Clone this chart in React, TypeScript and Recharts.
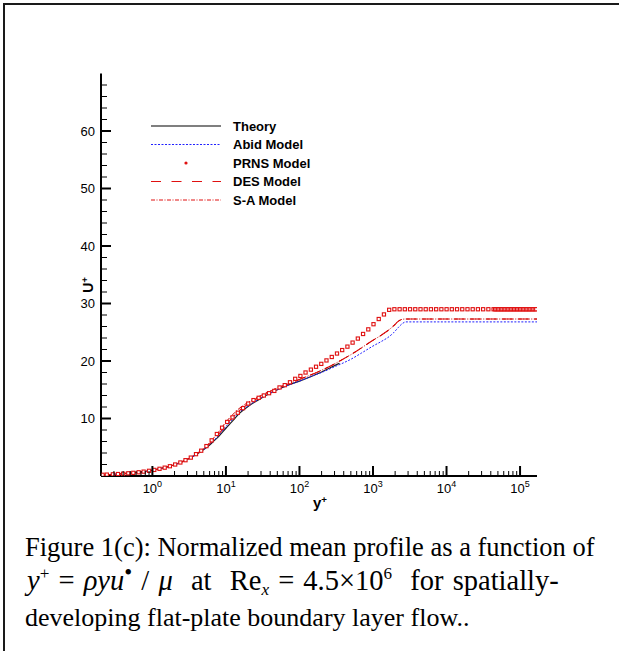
import React from "react";
import { ComposedChart, Line, Scatter, XAxis, YAxis } from "recharts";

// y+ / U+ readings taken off the figure
const theoryX = [0.2, 0.3, 0.5, 0.7, 1, 1.5, 2, 3, 4, 5, 6, 7, 8, 10, 12, 15, 20, 25, 30, 40, 50, 70, 100, 150, 200, 250, 300, 350];
const theoryU = [0.2, 0.3, 0.5, 0.7, 1.0, 1.5, 1.95, 2.9, 3.8, 4.6, 5.4, 6.2, 6.9, 8.3, 9.4, 10.8, 12.1, 12.9, 13.5, 14.4, 15.0, 15.8, 16.5, 17.4, 18.1, 18.7, 19.2, 19.6];

const modelX = [0.2, 0.3, 0.5, 0.7, 1, 1.5, 2, 3, 4, 5, 6, 7, 8, 10, 12, 15, 20, 25, 30, 40, 50, 70, 100, 150, 200, 300, 400, 500, 700, 1000, 1300, 1600, 1900, 2200, 2500, 2800, 5000, 10000, 30000, 100000, 170000];
const abidU = [0.2, 0.3, 0.5, 0.7, 1.0, 1.5, 1.95, 2.9, 3.8, 4.65, 5.5, 6.3, 7.1, 8.6, 9.7, 11.0, 12.2, 13.0, 13.6, 14.4, 15.0, 15.8, 16.5, 17.4, 18.0, 19.0, 19.7, 20.3, 21.4, 22.6, 23.4, 24.1, 24.9, 25.8, 26.5, 26.8, 26.8, 26.8, 26.8, 26.8, 26.8];
const desU = [0.2, 0.3, 0.5, 0.7, 1.0, 1.5, 1.95, 2.9, 3.85, 4.75, 5.6, 6.5, 7.3, 8.9, 10.0, 11.3, 12.5, 13.3, 13.9, 14.7, 15.3, 16.0, 16.8, 17.7, 18.4, 19.5, 20.4, 21.1, 22.3, 23.6, 24.5, 25.3, 26.1, 26.9, 27.25, 27.3, 27.3, 27.3, 27.3, 27.3, 27.3];
const saU = [0.2, 0.3, 0.5, 0.7, 1.0, 1.5, 1.95, 2.9, 3.9, 4.8, 5.8, 6.8, 7.7, 9.4, 10.5, 11.7, 12.8, 13.5, 14.0, 14.8, 15.3, 16.0, 16.8, 17.7, 18.4, 19.5, 20.4, 21.1, 22.3, 23.6, 24.5, 25.3, 26.1, 26.9, 27.25, 27.3, 27.3, 27.3, 27.3, 27.3, 27.3];

const prnsX = [
  0.21, 0.24, 0.29, 0.34, 0.40, 0.47, 0.55, 0.65, 0.76, 0.90, 1.06, 1.25, 1.47, 1.73, 2.04, 2.40, 2.82, 3.33, 3.92, 4.61,
  5.43, 6.40, 7.53, 8.87, 10.4, 12.3, 14.5, 17.1, 20.1, 23.7, 27.9, 32.8, 38.6, 45.5, 53.6, 63.1, 74.3, 87.5, 103, 121,
  143, 168, 198, 233, 275, 324, 381, 449, 528, 622, 733, 863, 1016, 1197, 1409, 1660, 1954, 2301, 2710, 3192,
  3758, 4426, 5212, 6138, 7228, 8511, 10020, 11800, 13900, 16370, 19280, 22700, 26730, 31480, 37070, 43650,
  45700, 47900, 50100, 52500, 55000, 57500, 60300, 63100, 66100, 69200, 72400, 75900, 79400, 83200, 87100,
  91200, 95500, 100000, 104700, 109600, 114800, 120200, 125900, 131800, 138000, 144500, 151400, 158500, 166000,
];
const prnsU = [
  0.21, 0.24, 0.29, 0.34, 0.40, 0.47, 0.55, 0.65, 0.76, 0.90, 1.06, 1.25, 1.45, 1.70, 2.0, 2.35, 2.75, 3.2, 3.8, 4.4,
  5.2, 6.2, 7.3, 8.4, 9.4, 10.2, 11.0, 11.8, 12.6, 13.2, 13.6, 14.0, 14.4, 14.8, 15.4, 15.8, 16.3, 16.9, 17.4, 18.0,
  18.5, 19.0, 19.5, 20.1, 20.7, 21.3, 21.9, 22.5, 23.2, 23.9, 24.7, 25.5, 26.4, 27.3, 28.1, 28.9, 29.0, 29.0, 29.0, 29.0,
  29.0, 29.0, 29.0, 29.0, 29.0, 29.0, 29.0, 29.0, 29.0, 29.0, 29.0, 29.0, 29.0, 29.0, 29.0, 29.0,
  29.0, 29.0, 29.0, 29.0, 29.0, 29.0, 29.0, 29.0, 29.0, 29.0, 29.0, 29.0, 29.0, 29.0, 29.0,
  29.0, 29.0, 29.0, 29.0, 29.0, 29.0, 29.0, 29.0, 29.0, 29.0, 29.0, 29.0, 29.0, 29.0,
];

const legendNames = ["Theory", "Abid Model", "PRNS Model", "DES Model", "S-A Model"];

const majorX = [1, 10, 100, 1000, 10000, 100000];
const yTicks = [0, 2, 4, 6, 8, 10, 12, 14, 16, 18, 20, 22, 24, 26, 28, 30, 32, 34, 36, 38, 40, 42, 44, 46, 48, 50, 52, 54, 56, 58, 60, 62, 64, 66, 68];

const xTicks: number[] = [];
[0.1, 1, 10, 100, 1000, 10000, 100000].forEach((d) => {
  for (let m = 1; m <= 9; m++) {
    const v = +(d * m).toPrecision(6);
    if (v >= 0.2 && v <= 170000) xTicks.push(v);
  }
});

const rows = (xs: number[], us: number[]) => xs.map((x, i) => ({ x, u: us[i] }));

const SANS = "'Liberation Sans', Arial, sans-serif";
const SERIF = "'Liberation Serif', 'Times New Roman', serif";
const RED = "#e01010";
const BLUE = "#2020ff";
const TICK = 6; // recharts tickSize; custom ticks shift back by it

const XTick = (props: any) => {
  const { x, y, payload } = props;
  const ay = y - TICK;
  const v = payload.value as number;
  const lg = Math.log10(v);
  const major = majorX.some((m) => Math.abs(Math.log10(m) - lg) < 1e-6);
  return (
    <g>
      <line x1={x} x2={x} y1={ay} y2={ay - (major ? 10 : 5)} stroke="#000" strokeWidth={major ? 2 : 1} />
      {major && (
        <text x={x} y={ay + 17} textAnchor="middle" fontFamily={SANS} fontSize={13} fill="#000">
          10
          <tspan dy={-6} fontSize={9}>{Math.round(lg)}</tspan>
        </text>
      )}
    </g>
  );
};

const YTick = (props: any) => {
  const { x, y, payload } = props;
  const ax = x + TICK;
  const v = payload.value as number;
  if (v === 0) return <g />;
  const major = v % 10 === 0;
  return (
    <g>
      <line x1={ax} x2={ax + (major ? 10 : 6)} y1={y} y2={y} stroke="#000" strokeWidth={major ? 2 : 1} />
      {major && (
        <text x={ax - 6} y={y} dy={4.5} textAnchor="end" fontFamily={SANS} fontSize={13} fill="#000">
          {v}
        </text>
      )}
    </g>
  );
};

const PrnsMarker = (props: any) => {
  const { cx, cy } = props;
  if (cx == null || cy == null) return <g />;
  return <rect x={cx - 1.6} y={cy - 1.6} width={3.2} height={3.2} fill="#fff" stroke={RED} strokeWidth={1.1} />;
};

function LegendBox() {
  const rowY = (i: number) => 10 + i * 18.5;
  return (
    <svg width={220} height={96} style={{ position: "absolute", left: 150, top: 116 }}>
      <line x1={1} x2={71} y1={rowY(0)} y2={rowY(0)} stroke="#555" strokeWidth={1.5} />
      <line x1={1} x2={71} y1={rowY(1)} y2={rowY(1)} stroke={BLUE} strokeWidth={1} strokeDasharray="2 1.5" />
      <circle cx={36} cy={rowY(2)} r={1.6} fill={RED} />
      <line x1={1} x2={71} y1={rowY(3)} y2={rowY(3)} stroke={RED} strokeWidth={1} strokeDasharray="10 10.5" />
      <line x1={1} x2={71} y1={rowY(4)} y2={rowY(4)} stroke={RED} strokeWidth={1} strokeDasharray="4 1.5 1 1.5" />
      {legendNames.map((n, i) => (
        <text key={n} x={83} y={rowY(i)} dy={4.6} fontFamily={SANS} fontWeight="bold" fontSize={13} fill="#000">
          {n}
        </text>
      ))}
    </svg>
  );
}

const sup = { fontSize: "0.6em", position: "relative" as const, top: "-0.65em" };
const sub = { fontSize: "0.6em", position: "relative" as const, top: "0.3em" };
const captionLine = (top: number, size: number) => ({
  position: "absolute" as const,
  left: 25,
  top,
  fontFamily: SERIF,
  fontSize: size,
  lineHeight: "36px",
  color: "#000",
  whiteSpace: "nowrap" as const,
});

export default function App() {
  return (
    <div style={{ position: "fixed", left: 0, top: 0, width: 619, height: 651, background: "#fff", overflow: "hidden" }}>
      <div style={{ position: "absolute", left: 3, top: 3, right: 0, bottom: 0, borderTop: "2px solid #1a1a1a", borderLeft: "2px solid #1a1a1a" }} />
      <div style={{ position: "absolute", left: 0, top: 0 }}>
        <ComposedChart width={619} height={520} margin={{ top: 73.5, right: 82, bottom: 14, left: 61 }}>
          <XAxis
            dataKey="x"
            type="number"
            scale="log"
            domain={[0.2, 170000]}
            allowDataOverflow
            ticks={xTicks}
            interval={0}
            tickSize={TICK}
            tickMargin={0}
            tickLine={false}
            height={30}
            tick={<XTick />}
            axisLine={{ stroke: "#000", strokeWidth: 2 }}
          />
          <YAxis
            type="number"
            domain={[0, 70]}
            allowDataOverflow
            ticks={yTicks}
            interval={0}
            tickSize={TICK}
            tickMargin={0}
            tickLine={false}
            width={40}
            tick={<YTick />}
            axisLine={{ stroke: "#000", strokeWidth: 2 }}
          />
          <Line data={rows(theoryX, theoryU)} dataKey="u" type="monotone" stroke="#222" strokeWidth={1.2} dot={false} isAnimationActive={false} />
          <Line data={rows(modelX, abidU)} dataKey="u" type="monotone" stroke={BLUE} strokeWidth={1} strokeDasharray="2 1.5" dot={false} isAnimationActive={false} />
          <Line data={rows(modelX, desU)} dataKey="u" type="monotone" stroke={RED} strokeWidth={1.1} strokeDasharray="10 6" dot={false} isAnimationActive={false} />
          <Line data={rows(modelX, saU)} dataKey="u" type="monotone" stroke="#cc0000" strokeWidth={1} strokeDasharray="4 1.5 1 1.5" dot={false} isAnimationActive={false} />
          <Scatter data={rows(prnsX, prnsU)} dataKey="u" shape={<PrnsMarker />} isAnimationActive={false} />
        </ComposedChart>
      </div>
      <LegendBox />
      <div
        style={{
          position: "absolute",
          left: 88,
          top: 285,
          transform: "translate(-50%, -50%) rotate(-90deg)",
          fontFamily: SANS,
          fontWeight: "bold",
          fontSize: 14,
          whiteSpace: "nowrap",
        }}
      >
        U<span style={{ fontSize: "0.65em", position: "relative", top: "-0.55em" }}>+</span>
      </div>
      <div
        style={{
          position: "absolute",
          left: 320,
          top: 502,
          transform: "translate(-50%, -50%)",
          fontFamily: SANS,
          fontWeight: "bold",
          fontSize: 15,
          whiteSpace: "nowrap",
        }}
      >
        y<span style={{ fontSize: "0.65em", position: "relative", top: "-0.55em" }}>+</span>
      </div>
      <div style={captionLine(529, 26.5)}>Figure 1(c): Normalized mean profile as a function of</div>
      <div style={{ ...captionLine(563, 28.5), left: 27, wordSpacing: "2px" }}>
        <i>y</i>
        <span style={sup}>+</span>&nbsp;= <i>ρyu</i>
        <span style={{ ...sup, fontSize: "0.8em", top: "-0.45em" }}>•</span> / <i>μ</i>&nbsp; at&nbsp; Re<i style={sub}>x</i> = 4.5×10
        <span style={sup}>6</span>&nbsp; for spatially-
      </div>
      <div style={{ ...captionLine(600, 26) }}>developing flat-plate boundary layer flow..</div>
    </div>
  );
}
